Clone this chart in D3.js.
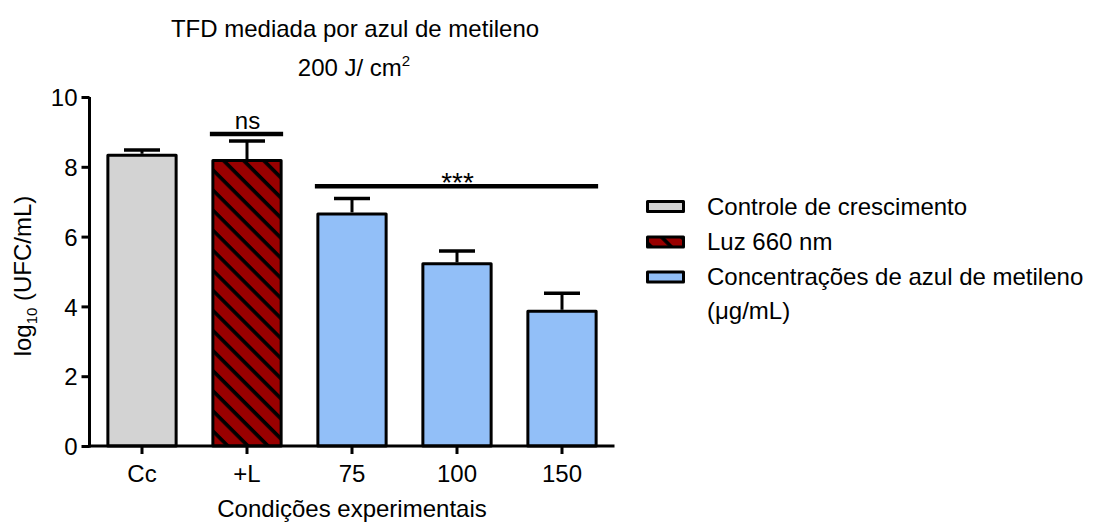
<!DOCTYPE html>
<html>
<head>
<meta charset="utf-8">
<script src="https://cdn.jsdelivr.net/npm/d3@7"></script>
<style>
  html, body { margin: 0; padding: 0; background: #fff; }
  svg text { font-family: "Liberation Sans", Arial, sans-serif; fill: #000; }
</style>
</head>
<body>
<svg id="chart" width="1095" height="522"></svg>
<script>
// Conditions on the x axis and the measured log10 counts
const categories = ["Cc", "+L", "75", "100", "150"];
const means = [8.33, 8.18, 6.65, 5.22, 3.86];
const errors = [0.15, 0.56, 0.44, 0.37, 0.52];
const groups = ["control", "light", "dye", "dye", "dye"];
const yTicks = [0, 2, 4, 6, 8, 10];

const legendKeys = ["control", "light", "dye"];
const legendLabels = [
  ["Controle de crescimento"],
  ["Luz 660 nm"],
  ["Concentrações de azul de metileno", "(μg/mL)"]
];

// Significance annotations: [first category, last category, level, label]
const sigBars = [
  ["+L", "+L", 8.94, "ns"],
  ["75", "150", 7.44, "***"]
];

const fills = { control: "#D3D3D3", light: "url(#hatch)", dye: "#92BFF8" };

const svg = d3.select("#chart");

// Diagonal hatch used for the light-only group
const defs = svg.append("defs");
const pat = defs.append("pattern")
  .attr("id", "hatch")
  .attr("patternUnits", "userSpaceOnUse")
  .attr("width", 14.2).attr("height", 14.2)
  .attr("patternTransform", "rotate(-45)");
pat.append("rect").attr("width", 14.2).attr("height", 14.2).attr("fill", "#990000");
pat.append("line").attr("x1", 2).attr("x2", 2).attr("y1", 0).attr("y2", 14.2)
  .attr("stroke", "#000").attr("stroke-width", 3.6);

const x = d3.scaleBand().domain(categories).range([89.5, 614.5])
  .paddingInner(0.35).paddingOuter(0.175);
const y = d3.scaleLinear().domain([0, 10]).range([446, 97]);

// Bars
const g = svg.append("g");
g.selectAll("rect.bar").data(categories).join("rect")
  .attr("class", "bar")
  .attr("x", d => x(d))
  .attr("width", x.bandwidth())
  .attr("y", (d, i) => y(means[i]))
  .attr("height", (d, i) => y(0) - y(means[i]))
  .attr("fill", (d, i) => fills[groups[i]])
  .attr("stroke", "#000").attr("stroke-width", 3)
  .attr("stroke-linejoin", "round");

// Error bars (upper only)
const capW = 36;
g.selectAll("line.stem").data(categories).join("line")
  .attr("class", "stem")
  .attr("x1", d => x(d) + x.bandwidth() / 2)
  .attr("x2", d => x(d) + x.bandwidth() / 2)
  .attr("y1", (d, i) => y(means[i]) - 1.5)
  .attr("y2", (d, i) => y(means[i] + errors[i]))
  .attr("stroke", "#000").attr("stroke-width", 3);
g.selectAll("line.cap").data(categories).join("line")
  .attr("class", "cap")
  .attr("x1", d => x(d) + x.bandwidth() / 2 - capW / 2)
  .attr("x2", d => x(d) + x.bandwidth() / 2 + capW / 2)
  .attr("y1", (d, i) => y(means[i] + errors[i]))
  .attr("y2", (d, i) => y(means[i] + errors[i]))
  .attr("stroke", "#000").attr("stroke-width", 3.5);

// Axes
const yAxis = svg.append("g").attr("transform", "translate(89.5,0)")
  .call(d3.axisLeft(y).tickValues(yTicks).tickSize(8).tickPadding(4).tickFormat(d3.format("d")));
const xAxis = svg.append("g").attr("transform", `translate(0,${y(0)})`)
  .call(d3.axisBottom(x).tickSize(8).tickPadding(11));
[yAxis, xAxis].forEach(ax => {
  ax.select(".domain").attr("stroke", "#000").attr("stroke-width", 3);
  ax.selectAll(".tick line").attr("stroke", "#000").attr("stroke-width", 3);
  ax.selectAll(".tick text").attr("font-size", 24)
    .attr("font-family", "'Liberation Sans', Arial, sans-serif").attr("fill", "#000");
});
yAxis.select(".domain").attr("d", `M0,${y(0) + 1.5}V${y(10)}`);
yAxis.selectAll(".tick text").attr("dy", "0.36em");
xAxis.select(".domain").attr("d", `M88,0H614.5`);
xAxis.selectAll(".tick text").attr("dy", "0.72em");

// Significance lines and labels
sigBars.forEach(([a, b, level, label]) => {
  const x0 = x(a) - 3, x1 = x(b) + x.bandwidth() + 2;
  const isStars = label !== "ns";
  svg.append("line")
    .attr("x1", x0).attr("x2", x1)
    .attr("y1", y(level)).attr("y2", y(level))
    .attr("stroke", "#000").attr("stroke-width", 4.5);
  svg.append("text")
    .attr("x", (x0 + x1) / 2 + 1)
    .attr("y", isStars ? y(level) + 6 : y(level) - 5)
    .attr("text-anchor", "middle")
    .attr("font-size", isStars ? 28 : 24)
    .text(label);
});

// Title
const title = svg.append("text").attr("text-anchor", "middle").attr("font-size", 24);
title.append("tspan").attr("x", 355).attr("y", 37).text("TFD mediada por azul de metileno");
const t2 = svg.append("text").attr("text-anchor", "middle").attr("font-size", 24)
  .attr("x", 354).attr("y", 76);
t2.append("tspan").text("200 J/ cm");
t2.append("tspan").attr("font-size", 15).attr("dy", -10).text("2");

// Axis titles
svg.append("text").attr("x", 352).attr("y", 517).attr("text-anchor", "middle")
  .attr("font-size", 24).text("Condições experimentais");
const yl = svg.append("text").attr("text-anchor", "middle").attr("font-size", 24)
  .attr("transform", "translate(31,276) rotate(-90)");
yl.append("tspan").text("log");
yl.append("tspan").attr("font-size", 15).attr("dy", 6).text("10");
yl.append("tspan").attr("dy", -6).text(" (UFC/mL)");

// Legend
const rowCenters = [206.5, 242, 277];
const legend = svg.append("g");
legendKeys.forEach((k, i) => {
  legend.append("rect")
    .attr("x", 647.5).attr("y", rowCenters[i] - 5)
    .attr("width", 36).attr("height", 10)
    .attr("fill", fills[k]).attr("stroke", "#000").attr("stroke-width", 3)
    .attr("stroke-linejoin", "round");
  legendLabels[i].forEach((line, j) => {
    legend.append("text")
      .attr("x", 707).attr("y", rowCenters[i] + 8 + j * 34)
      .attr("font-size", 24)
      .text(line);
  });
});
</script>
</body>
</html>
